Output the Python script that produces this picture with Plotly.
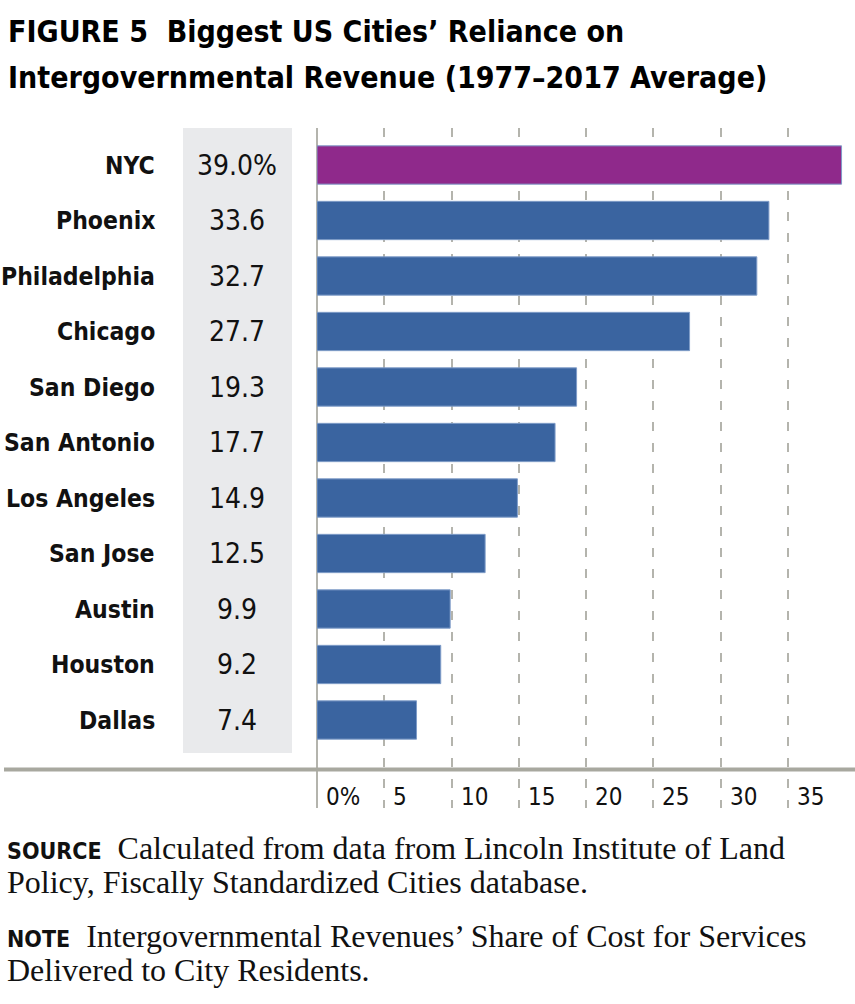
import plotly.graph_objects as go

cities = ["NYC", "Phoenix", "Philadelphia", "Chicago", "San Diego", "San Antonio",
          "Los Angeles", "San Jose", "Austin", "Houston", "Dallas"]
values = [39.0, 33.6, 32.7, 27.7, 19.3, 17.7, 14.9, 12.5, 9.9, 9.2, 7.4]
value_labels = ["39.0%", "33.6", "32.7", "27.7", "19.3", "17.7", "14.9", "12.5", "9.9", "9.2", "7.4"]
tick_vals = [0, 5, 10, 15, 20, 25, 30, 35]
tick_labels = ["0%", "5", "10", "15", "20", "25", "30", "35"]
title_lines = ["FIGURE 5  Biggest US Cities\u2019 Reliance on",
               "Intergovernmental Revenue (1977\u20132017 Average)"]
source_lines = ["Calculated from data from Lincoln Institute of Land",
                "Policy, Fiscally Standardized Cities database."]
note_lines = ["Intergovernmental Revenues\u2019 Share of Cost for Services",
              "Delivered to City Residents."]

PURPLE = "#8F298B"
BLUE = "#3A64A0"
NARROW = "DejaVu Sans Condensed, Liberation Sans Narrow, Arial Narrow, sans-serif"
SERIF = "Liberation Serif, DejaVu Serif, serif"

W, H = 855, 1004
L, R, T, B = 317, 0, 128, 1004 - 808
pw = W - L - R
ph = H - T - B


def px_x(px):
    return (px - L) / pw


def px_y(py):
    return (H - B - py) / ph


ypos = list(range(len(cities)))
colors = [PURPLE if c == "NYC" else BLUE for c in cities]

fig = go.Figure()
fig.add_trace(go.Bar(
    x=values, y=ypos, orientation="h", width=0.69,
    marker=dict(color=colors, line=dict(color="#7f9cc8", width=1)),
    hoverinfo="skip",
))

annotations = []
for i, (c, v) in enumerate(zip(cities, value_labels)):
    annotations.append(dict(x=px_x(157), xref="paper", y=i, yref="y",
                            text=f"<b>{c}</b>", showarrow=False, xanchor="right",
                            yanchor="middle",
                            font=dict(family=NARROW, size=24.5, color="#111")))
    annotations.append(dict(x=px_x(237), xref="paper", y=i, yref="y",
                            text=v, showarrow=False, xanchor="center",
                            yanchor="middle",
                            font=dict(family=NARROW, size=28, color="#111")))

for tv, tl in zip(tick_vals, tick_labels):
    annotations.append(dict(x=tv, xref="x", y=px_y(797), yref="paper",
                            text=tl, showarrow=False, xanchor="left", yanchor="middle",
                            xshift=7,
                            font=dict(family=NARROW, size=24, color="#111")))

for line, py in zip(title_lines, [31, 77]):
    annotations.append(dict(x=px_x(6), xref="paper", y=px_y(py), yref="paper",
                            xanchor="left", yanchor="middle", text=f"<b>{line}</b>",
                            showarrow=False, align="left",
                            font=dict(family=NARROW, size=30, color="#000")))

label_style = f"font-family:{NARROW}; font-size:23px; font-weight:bold"
for label, lines, ys in [("SOURCE", source_lines, [848, 882]),
                         ("NOTE", note_lines, [936, 970])]:
    for k, (line, py) in enumerate(zip(lines, ys)):
        txt = (f"<span style='{label_style}'>{label}</span>  " + line) if k == 0 else line
        annotations.append(dict(x=px_x(5), xref="paper", y=px_y(py), yref="paper",
                                xanchor="left", yanchor="middle", text=txt,
                                showarrow=False, align="left",
                                font=dict(family=SERIF, size=32, color="#111")))

shapes = [
    dict(type="rect", xref="paper", yref="paper",
         x0=px_x(183), x1=px_x(292), y0=px_y(753), y1=1,
         fillcolor="#e9eaec", line=dict(width=0), layer="below"),
    dict(type="line", xref="paper", yref="paper",
         x0=px_x(4), x1=1, y0=px_y(769.5), y1=px_y(769.5),
         line=dict(color="#a8a89f", width=4), layer="above"),
]

fig.update_layout(
    width=W, height=H,
    margin=dict(l=L, r=R, t=T, b=B, pad=0),
    paper_bgcolor="white", plot_bgcolor="white",
    showlegend=False,
    xaxis=dict(range=[0, 40], tickvals=tick_vals, showticklabels=False,
               showgrid=True, gridcolor="#b4b4ad", gridwidth=1.5, griddash="9px,12px",
               zeroline=True, zerolinecolor="#b4b4ad", zerolinewidth=1.5,
               showline=False, ticks="", fixedrange=True),
    yaxis=dict(range=[10 + (808 - 720) / 55.5, -(165 - 128) / 55.5],
               showticklabels=False, showgrid=False, zeroline=False,
               showline=False, ticks="", fixedrange=True),
    annotations=annotations,
    shapes=shapes,
)

fig.write_html("out.html")
